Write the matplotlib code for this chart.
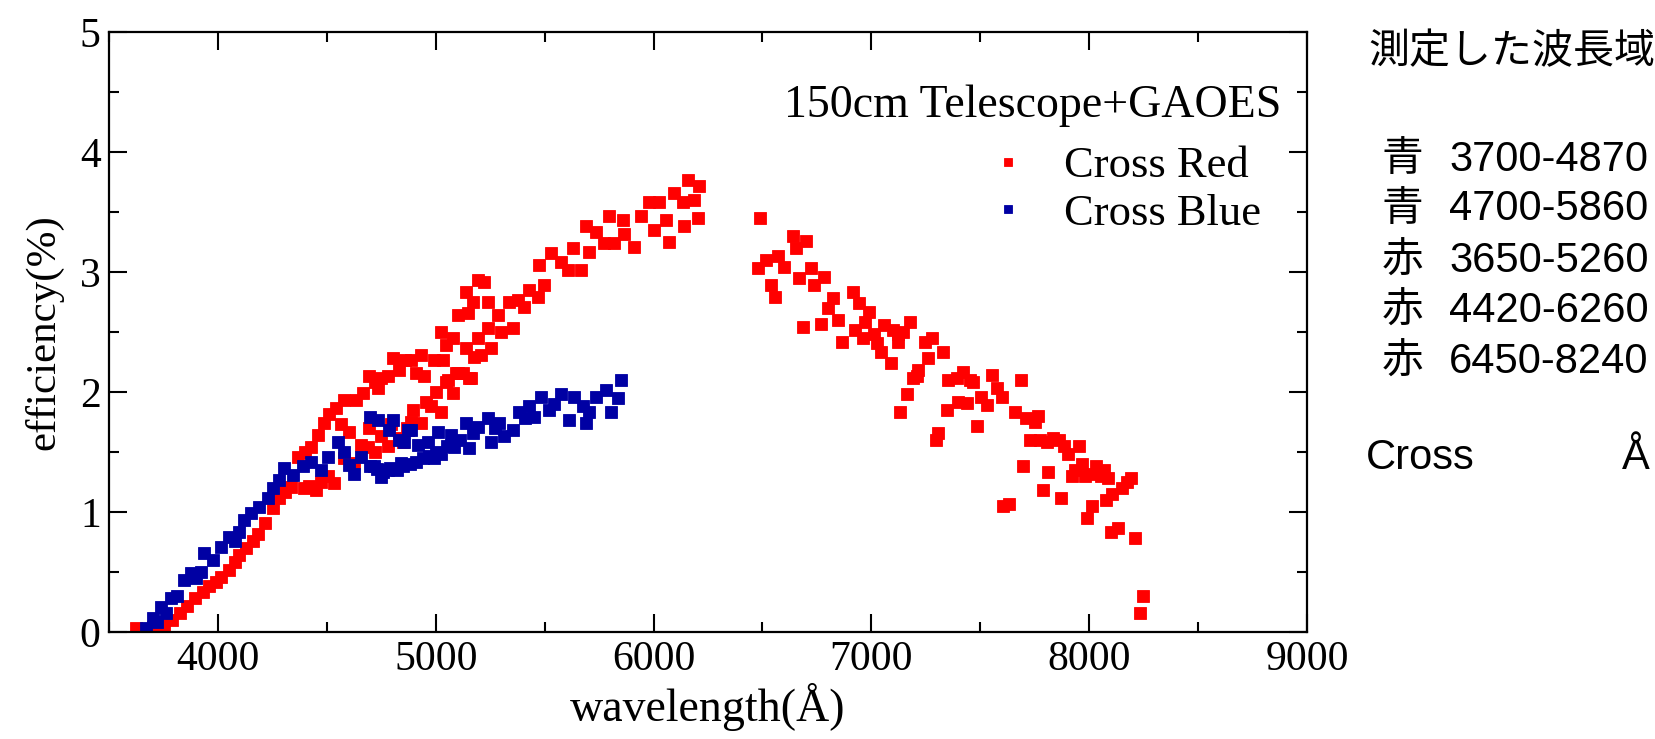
import matplotlib
matplotlib.use("Agg")
import matplotlib.pyplot as plt
from matplotlib.ticker import MultipleLocator

# ---------------- data ----------------
red_o1_wl = [3626, 3660, 3700, 3754, 3790, 3824, 3860, 3893, 3930, 3960, 3990, 4016, 4050, 4080,
             4099, 4130, 4160, 4185, 4214, 4253, 4282, 4310, 4337, 4369, 4400, 4429, 4460, 4485,
             4512, 4540, 4581, 4636, 4668, 4695, 4719, 4736, 4750, 4782, 4805, 4833, 4860, 4887,
             4910, 4933, 4947, 4993, 5025, 5034, 5048, 5080, 5102, 5139, 5148, 5171, 5193, 5221, 5239]
red_o1_eff = [0.03, 0.02, 0.04, 0.06, 0.10, 0.16, 0.22, 0.28, 0.33, 0.38, 0.42, 0.46, 0.52, 0.58,
              0.64, 0.70, 0.76, 0.82, 0.91, 1.03, 1.12, 1.17, 1.21, 1.46, 1.50, 1.54, 1.64, 1.74,
              1.82, 1.87, 1.93, 1.93, 1.99, 2.13, 2.08, 2.03, 2.12, 2.13, 2.28, 2.18, 2.27, 2.27,
              2.16, 2.31, 2.13, 2.27, 2.50, 2.27, 2.39, 2.45, 2.64, 2.83, 2.66, 2.75, 2.93, 2.92, 2.75]

red_o2_wl = [4397, 4420, 4450, 4474, 4505, 4534, 4567, 4580, 4603, 4627, 4659, 4691, 4695, 4720,
             4750, 4782, 4795, 4830, 4851, 4870, 4887, 4896, 4933, 4956, 4979, 5002, 5025, 5048,
             5057, 5080, 5094, 5102, 5125, 5139, 5153, 5162, 5175, 5193, 5208, 5239, 5253, 5285,
             5299, 5336, 5354, 5377, 5405, 5428, 5470, 5475, 5497, 5529, 5575, 5607, 5630, 5666,
             5689, 5703, 5735, 5772, 5795, 5818, 5859, 5863, 5909, 5941, 5978, 6001, 6024, 6056,
             6070, 6093, 6134, 6139, 6157, 6185, 6203, 6208]
red_o2_eff = [1.20, 1.22, 1.18, 1.25, 1.30, 1.24, 1.73, 1.45, 1.67, 1.41, 1.56, 1.54, 1.70, 1.50,
              1.63, 1.55, 1.73, 1.62, 1.58, 1.70, 1.75, 1.85, 1.74, 1.92, 1.88, 2.00, 1.83, 2.08,
              2.10, 1.99, 2.16, 2.16, 2.16, 2.37, 2.12, 2.12, 2.29, 2.45, 2.31, 2.53, 2.37, 2.64,
              2.50, 2.75, 2.53, 2.77, 2.71, 2.85, 2.79, 3.06, 2.89, 3.16, 3.08, 3.02, 3.20, 3.02,
              3.38, 3.17, 3.33, 3.24, 3.47, 3.24, 3.43, 3.32, 3.21, 3.47, 3.58, 3.35, 3.58, 3.43,
              3.25, 3.66, 3.58, 3.38, 3.77, 3.60, 3.45, 3.72]

red_o3_wl = [6478, 6491, 6515, 6538, 6557, 6570, 6598, 6639, 6652, 6666, 6684, 6698, 6721, 6735,
             6767, 6781, 6803, 6826, 6845, 6863, 6914, 6927, 6941, 6960, 6973, 6987, 7010, 7028,
             7042, 7056, 7088, 7101, 7120, 7124, 7133, 7147, 7165, 7179, 7193, 7211, 7216, 7248,
             7262, 7280, 7295, 7304, 7331, 7349, 7354, 7395, 7400, 7422, 7441, 7454, 7468, 7486,
             7505, 7529, 7553, 7578, 7602, 7605, 7632, 7660, 7685, 7695, 7712, 7730, 7752, 7765,
             7772, 7790, 7805, 7812, 7835, 7862, 7872, 7885, 7902, 7922, 7935, 7952, 7965, 7982,
             7992, 8002, 8012, 8032, 8052, 8068, 8075, 8085, 8102, 8105, 8132, 8152, 8172, 8192,
             8212, 8232, 8248]
red_o3_eff = [3.03, 3.45, 3.10, 2.89, 2.79, 3.13, 3.04, 3.30, 3.20, 2.95, 2.54, 3.26, 3.03, 2.89,
              2.57, 2.96, 2.70, 2.78, 2.60, 2.42, 2.83, 2.52, 2.74, 2.45, 2.58, 2.67, 2.48, 2.41,
              2.33, 2.56, 2.24, 2.52, 2.42, 2.48, 1.83, 2.50, 1.98, 2.58, 2.12, 2.13, 2.18, 2.42,
              2.28, 2.45, 1.60, 1.66, 2.33, 1.85, 2.10, 2.12, 1.92, 2.17, 1.91, 2.10, 2.08, 1.72,
              1.96, 1.89, 2.14, 2.03, 1.96, 1.05, 1.07, 1.83, 2.10, 1.38, 1.78, 1.60, 1.75, 1.80,
              1.60, 1.18, 1.58, 1.33, 1.62, 1.60, 1.12, 1.55, 1.48, 1.30, 1.35, 1.55, 1.40, 1.30,
              0.95, 1.32, 1.05, 1.38, 1.30, 1.35, 1.10, 1.28, 0.83, 1.15, 0.87, 1.20, 1.25, 1.28,
              0.78, 0.16, 0.30]

blue_o1_wl = [3672, 3704, 3720, 3741, 3760, 3786, 3810, 3846, 3878, 3900, 3924, 3938, 3979, 4016,
              4053, 4080, 4099, 4122, 4154, 4190, 4231, 4253, 4282, 4305, 4346, 4392, 4429, 4474,
              4506, 4552, 4580, 4603, 4626, 4658, 4696, 4717, 4735, 4750, 4782, 4785, 4805, 4833,
              4841, 4855, 4873]
blue_o1_eff = [0.03, 0.12, 0.08, 0.21, 0.16, 0.28, 0.30, 0.43, 0.49, 0.45, 0.50, 0.66, 0.60, 0.71,
               0.79, 0.76, 0.83, 0.93, 0.99, 1.04, 1.12, 1.20, 1.27, 1.37, 1.31, 1.38, 1.42, 1.35,
               1.46, 1.58, 1.50, 1.39, 1.32, 1.46, 1.79, 1.38, 1.77, 1.29, 1.35, 1.68, 1.77, 1.60,
               1.41, 1.58, 1.68]

blue_o2_wl = [4700, 4730, 4760, 4790, 4820, 4850, 4880, 4887, 4910, 4919, 4940, 4965, 4970, 4993,
              5000, 5011, 5025, 5050, 5071, 5085, 5110, 5139, 5153, 5170, 5193, 5239, 5253, 5270,
              5290, 5313, 5354, 5383, 5410, 5428, 5451, 5483, 5520, 5545, 5575, 5612, 5635, 5676,
              5690, 5703, 5735, 5781, 5804, 5836, 5850]
blue_o2_eff = [1.38, 1.36, 1.33, 1.37, 1.35, 1.38, 1.40, 1.68, 1.42, 1.56, 1.45, 1.58, 1.47, 1.45,
               1.50, 1.67, 1.48, 1.55, 1.64, 1.54, 1.60, 1.74, 1.53, 1.66, 1.71, 1.78, 1.58, 1.70,
               1.74, 1.63, 1.68, 1.83, 1.78, 1.88, 1.79, 1.96, 1.85, 1.90, 1.98, 1.77, 1.96, 1.88,
               1.74, 1.83, 1.96, 2.02, 1.83, 1.95, 2.10]

series_labels = ["Cross Red", "Cross Blue"]
panel_title = "150cm Telescope+GAOES"
note_title = "測定した波長域"
note_rows = [("青", "3700-4870"), ("青", "4700-5860"), ("赤", "3650-5260"),
             ("赤", "4420-6260"), ("赤", "6450-8240")]
note_foot = ("Cross", "Å")

# ---------------- figure ----------------
W, H = 1656, 739
fig = plt.figure(figsize=(W / 100, H / 100), dpi=100)
ax = fig.add_axes([109 / W, 1 - 632 / H, (1307 - 109) / W, (632 - 32) / H])

RED = "#FF0000"
BLUE = "#0000A3"
serif = "Liberation Serif"

red_wl = red_o1_wl + red_o2_wl + red_o3_wl
red_eff = red_o1_eff + red_o2_eff + red_o3_eff
blue_wl = blue_o1_wl + blue_o2_wl
blue_eff = blue_o1_eff + blue_o2_eff

hr, = ax.plot(red_wl, red_eff, "s", color=RED, ms=8, mew=0.6, ls="none", label=series_labels[0])
hb, = ax.plot(blue_wl, blue_eff, "s", color=BLUE, ms=8, mew=0.6, ls="none", label=series_labels[1])

ax.set_xlim(3500, 9000)
ax.set_ylim(0, 5)
ax.xaxis.set_major_locator(MultipleLocator(1000))
ax.xaxis.set_minor_locator(MultipleLocator(500))
ax.yaxis.set_major_locator(MultipleLocator(1))
ax.yaxis.set_minor_locator(MultipleLocator(0.5))
ax.tick_params(which="both", direction="in", top=True, right=True, width=1.5, colors="black")
ax.tick_params(which="major", length=13, labelsize=30, pad=6)
ax.tick_params(which="minor", length=7)
for lab in ax.get_xticklabels() + ax.get_yticklabels():
    lab.set_fontfamily(serif)
for s in ax.spines.values():
    s.set_linewidth(1.6)

ax.set_xlabel("wavelength(Å)", fontfamily=serif, fontsize=33, labelpad=3)
ax.set_ylabel("efficiency(%)", fontfamily=serif, fontsize=31, labelpad=12)

fig.text(1281 / W, 1 - 106 / H, panel_title, fontfamily=serif, fontsize=33,
         ha="right", va="center")

leg = ax.legend(handles=[hr, hb], loc="upper left", bbox_to_anchor=(986 / W, 1 - 146 / H),
                bbox_transform=fig.transFigure, frameon=False,
                prop={"family": serif, "size": 32}, handlelength=1.0, handletextpad=0.75,
                borderpad=0, borderaxespad=0, labelspacing=0.17, markerscale=0.8)

# right-side notes
sans = ["Liberation Sans", "Noto Sans CJK JP"]
fs = 30
fig.text(1368 / W, 1 - 52 / H, note_title, fontfamily=["Noto Sans CJK JP"], fontsize=29.5,
         ha="left", va="center")
row_y = [160, 209, 261, 311, 362]
for (ch, rng), y in zip(note_rows, row_y):
    fig.text(1382 / W, 1 - y / H, ch, fontfamily=["Noto Sans CJK JP"], fontsize=fs,
             ha="left", va="center")
    fig.text(1449 / W, 1 - y / H, rng, fontfamily=sans, fontsize=fs, ha="left", va="center")
fig.text(1366 / W, 1 - 458 / H, note_foot[0], fontfamily=sans, fontsize=fs, ha="left", va="center")
fig.text(1622 / W, 1 - 458 / H, note_foot[1], fontfamily=sans, fontsize=fs, ha="left", va="center")

fig.savefig("out.png", dpi=100)
